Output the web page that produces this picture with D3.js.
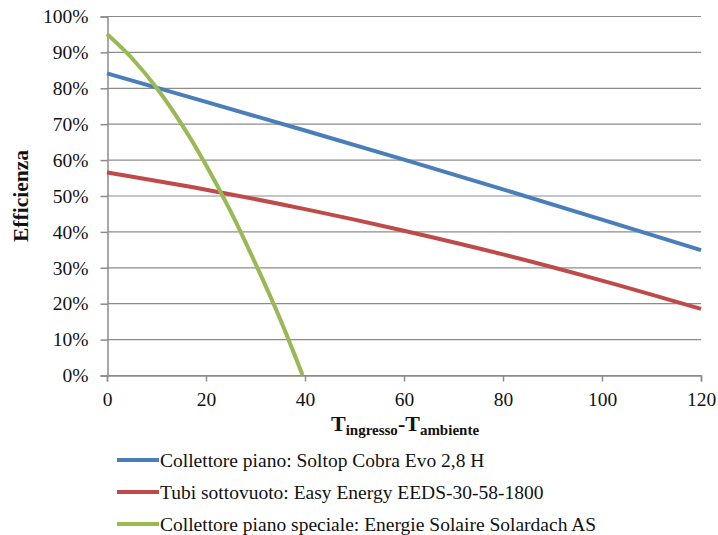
<!DOCTYPE html>
<html>
<head>
<meta charset="utf-8">
<script src="https://cdn.jsdelivr.net/npm/d3@7"></script>
<style>
  body { margin: 0; background: #fff; }
  text { font-family: "Palatino Linotype", "Book Antiqua", Palatino, "Liberation Serif", serif; fill: #111; }
</style>
</head>
<body>
<div id="chart"></div>
<script>
// series (x = T ingresso - T ambiente, y = efficienza %)
var blue_x  = [0, 20, 40, 60, 80, 100, 120];
var blue_y  = [84, 76.1, 68.1, 60, 51.7, 43.3, 34.8];
var red_x   = [0, 20, 40, 60, 80, 100, 120];
var red_y   = [56.4, 51.6, 46.2, 40.2, 33.6, 26.3, 18.4];
var green_x = [0, 5, 10, 15, 20, 25, 30, 35, 39.5];
var green_y = [95, 88.3, 80, 70, 58.5, 45.5, 31, 15.5, 0];

var series_names = [
    "Collettore piano: Soltop Cobra Evo 2,8 H",
    "Tubi sottovuoto: Easy Energy EEDS-30-58-1800",
    "Collettore piano speciale: Energie Solaire Solardach AS"
];
var series_colors = ["#4a7ebb", "#be4b48", "#98b954"];

var x_ticks = [0, 20, 40, 60, 80, 100, 120];
var y_ticks = [0, 10, 20, 30, 40, 50, 60, 70, 80, 90, 100];

var chart_width  = 718;
var chart_height = 535;
var plot_left = 107, plot_right = 701, plot_top = 16, plot_bottom = 375;

var svg = d3.select("#chart")
    .append("svg")
    .attr("width", chart_width)
    .attr("height", chart_height);

var x_scale = d3.scaleLinear().domain([0, 120]).range([plot_left, plot_right]);
var y_scale = d3.scaleLinear().domain([0, 100]).range([plot_bottom, plot_top]);

// gridlines
svg.append("g")
    .selectAll("line")
    .data(y_ticks)
    .enter()
    .append("line")
    .attr("x1", plot_left)
    .attr("x2", plot_right)
    .attr("y1", function(d){ return y_scale(d) + 0.5; })
    .attr("y2", function(d){ return y_scale(d) + 0.5; })
    .attr("stroke", "#8c8c8c")
    .attr("stroke-width", 1.2);

// axes
var y_axis = d3.axisLeft(y_scale)
    .tickValues(y_ticks)
    .tickSize(7)
    .tickPadding(12)
    .tickFormat(function(d){ return d + "%"; });

var x_axis = d3.axisBottom(x_scale)
    .tickValues(x_ticks)
    .tickSize(6)
    .tickPadding(11);

var gy = svg.append("g")
    .attr("transform", "translate(" + (plot_left + 0.5) + ",0.5)")
    .call(y_axis);
var gx = svg.append("g")
    .attr("transform", "translate(0," + (plot_bottom + 0.5) + ")")
    .call(x_axis);

[gx, gy].forEach(function(g){
    g.select(".domain").attr("stroke", "#8c8c8c").attr("stroke-width", 1.5);
    g.selectAll(".tick line").attr("stroke", "#8c8c8c").attr("stroke-width", 1.5);
    g.selectAll(".tick text")
        .style("font-family", "'Palatino Linotype','Book Antiqua',Palatino,'Liberation Serif',serif")
        .style("font-size", "19.5px")
        .attr("fill", "#111");
});

// lines
var line = d3.line()
    .x(function(d){ return x_scale(d[0]); })
    .y(function(d){ return y_scale(d[1]); })
    .curve(d3.curveMonotoneX);

var all_series = [
    d3.zip(blue_x, blue_y),
    d3.zip(red_x, red_y),
    d3.zip(green_x, green_y)
];

svg.selectAll(".series")
    .data(all_series)
    .enter()
    .append("path")
    .attr("class", "series")
    .attr("d", line)
    .attr("fill", "none")
    .attr("stroke", function(d, i){ return series_colors[i]; })
    .attr("stroke-width", 4)
    .attr("stroke-linecap", "butt");

// axis titles
svg.append("text")
    .attr("transform", "translate(28,196) rotate(-90)")
    .attr("text-anchor", "middle")
    .style("font-size", "21.5px")
    .style("font-weight", "bold")
    .text("Efficienza");

var xt = svg.append("text")
    .attr("x", 405)
    .attr("y", 431)
    .attr("text-anchor", "middle")
    .style("font-weight", "bold");
xt.append("tspan").style("font-size", "22px").text("T");
xt.append("tspan").style("font-size", "15px").attr("dy", 4).text("ingresso");
xt.append("tspan").style("font-size", "22px").attr("dy", -4).text("-T");
xt.append("tspan").style("font-size", "15px").attr("dy", 4).text("ambiente");

// legend
var legend = svg.selectAll(".legend")
    .data(series_names)
    .enter()
    .append("g")
    .attr("class", "legend")
    .attr("transform", function(d, i){ return "translate(117," + (460 + i * 32) + ")"; });

legend.append("line")
    .attr("x1", 0)
    .attr("x2", 42)
    .attr("stroke", function(d, i){ return series_colors[i]; })
    .attr("stroke-width", 4);

legend.append("text")
    .attr("x", 43)
    .attr("y", 6.5)
    .style("font-size", "19.5px")
    .text(function(d){ return d; });
</script>
</body>
</html>
